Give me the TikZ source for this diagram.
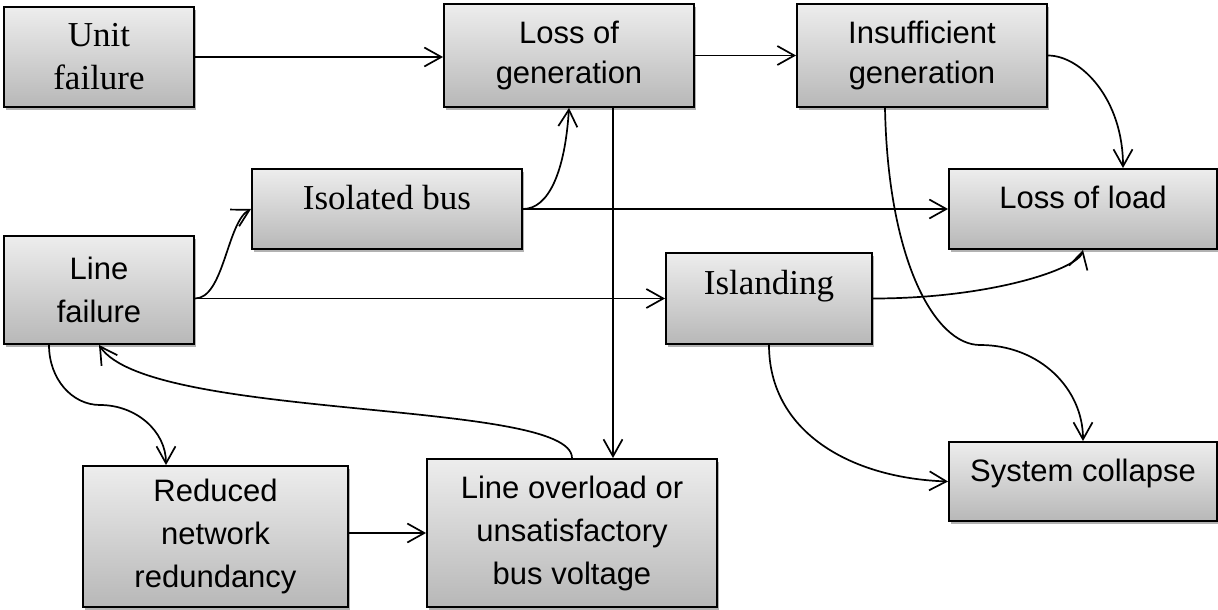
\documentclass[tikz,border=0pt]{standalone}
\usepackage{fontspec}
\setmainfont{Liberation Serif}
\newfontfamily\sansf{Liberation Sans}
\usetikzlibrary{arrows.meta,shadows,calc}
\begin{document}
\begin{tikzpicture}[x=1pt,y=-1pt,
 box/.style={draw=black, line width=1.9pt, top color=white!93!black, bottom color=white!72!black,
   drop shadow={shadow xshift=2pt, shadow yshift=-3pt, opacity=0.3, fill=black},
   inner sep=0pt, align=center, anchor=center},
 serif/.style={font=\fontsize{35}{43}\selectfont},
 sans/.style={font=\sansf\fontsize{31}{43}\selectfont},
 sanstight/.style={font=\sansf\fontsize{31}{40}\selectfont},
 arr/.style={line width=1.7pt, -{Straight Barb[length=17pt,width=19pt]}},
]
\useasboundingbox (0,0) rectangle (1218,610);

\node[box,serif,minimum width=190pt,minimum height=100pt] (uf) at (99,57) {Unit\\failure};
\node[box,sanstight,minimum width=250pt,minimum height=103pt] (lg) at (569,55.5) {Loss of\\generation};
\node[box,sanstight,minimum width=250pt,minimum height=103pt] (ig) at (922,55.5) {Insufficient\\generation};
\node[box,serif,minimum width=270pt,minimum height=80pt,text height=22pt,text depth=22pt] (ib) at (387,209) {Isolated bus};
\node[box,sans,minimum width=268pt,minimum height=80pt,text height=22pt,text depth=24pt] (ll) at (1083,209) {Loss of load};
\node[box,sans,minimum width=190pt,minimum height=108pt] (lf) at (99,290) {Line\\failure};
\node[box,serif,minimum width=206pt,minimum height=91pt,text height=22pt,text depth=31pt] (isl) at (769,298.5) {Islanding};
\node[box,sans,minimum width=265pt,minimum height=141pt] (rn) at (215.5,536.5) {Reduced\\network\\redundancy};
\node[box,sans,minimum width=290pt,minimum height=148pt] (lo) at (572,533) {Line overload or\\unsatisfactory\\bus voltage};
\node[box,sans,minimum width=268pt,minimum height=79pt,text height=22pt,text depth=23pt] (sc) at (1083,481.5) {System collapse};

\coordinate (vx) at (613,0);
\coordinate (igs) at ($(ig.south)+(-37,0)$);
\coordinate (m1) at (980,345);
\coordinate (llin) at ($(ll.north)+(40,0)$);
\coordinate (lfs) at ($(lf.south)+(-50,0)$);
\coordinate (m2) at (100,405);
\coordinate (rnn) at ($(rn.north)+(-49.5,0)$);

\draw[arr] (uf.east) -- (uf.east -| lg.west);
\draw[arr] (lg.east) -- (ig.west);
\draw[arr] (ig.east) .. controls +(33,0) and +(0,-69) .. (llin);
\draw[arr] (igs) .. controls +(3,153) and +(-45,0) .. (m1) .. controls +(60,0) and +(0,-52) .. (sc.north);
\draw[arr] (vx |- lg.south) -- (vx |- lo.north);
\draw[arr] (ib.east) .. controls +(26,0) and +(-4,63) .. (lg.south);
\draw[arr] (ib.east) -- (ib.east -| ll.west);
\draw[arr] (isl.west -| lf.east) -- (isl.west);
\draw[arr] (isl.west -| lf.east) .. controls +(29,0) and +(-24,13) .. (ib.west);
\draw[arr] (isl.east) .. controls +(118,0) and +(-5,19) .. (ll.south);
\draw[arr] (isl.south) .. controls +(0,86) and +(-99,-3.5) .. (sc.west);
\draw[arr] (lfs) .. controls +(0,34) and +(-28,0) .. (m2) .. controls +(36,0) and +(0,-34) .. (rnn);
\draw[arr] (lo.north) .. controls +(0,-59) and +(51,76) .. (lf.south);
\draw[arr] (lo.west -| rn.east) -- (lo.west);
\end{tikzpicture}
\end{document}
